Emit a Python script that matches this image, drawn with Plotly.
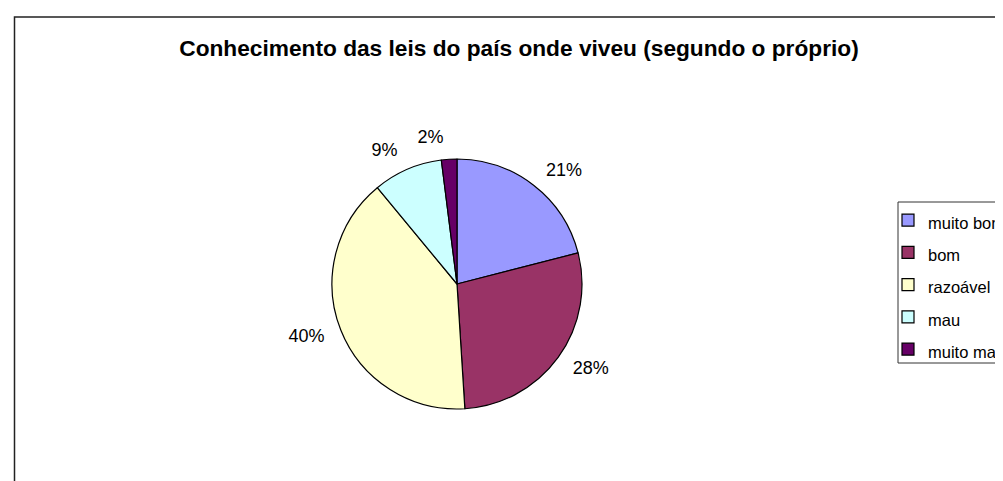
import plotly.graph_objects as go

# dados do gráfico
categorias = ["muito bom", "bom", "razoável", "mau", "muito mau"]
valores = [21, 28, 40, 9, 2]
cores = ["#9999FF", "#993366", "#FFFFCC", "#CCFFFF", "#660066"]
titulo = "Conhecimento das leis do país onde viveu (segundo o próprio)"

W, H = 1003, 481
fonte = "Liberation Sans, Arial, sans-serif"
cx, cy, r = 449, 276, 125      # centro e raio da tarta (px)
r_txt = 137                    # raio usado para colocar os rótulos, como no Excel


def px_x(x):
    return x / W


def px_y(y):
    return 1 - y / H


def dominio(raio):
    return dict(x=[px_x(cx - raio), px_x(cx + raio)],
                y=[px_y(cy + raio), px_y(cy - raio)])


# texto da legenda menor que a fonte da legenda (para o espaçamento entre itens)
rotulos = ['<span style="font-size:16.5px">%s</span>' % c for c in categorias]
transp = ["rgba(0,0,0,0)"] * len(valores)
n = len(valores)


def pie(pos, cor, linha, dom, legenda):
    return go.Pie(
        labels=rotulos,
        values=valores,
        sort=False,
        direction="clockwise",
        rotation=0,
        marker=dict(colors=cor, line=linha),
        textinfo="percent",
        textposition=pos,
        textfont=dict(family=fonte, size=18, color="black"),
        domain=dom,
        showlegend=legenda,
        hoverinfo="label+percent" if legenda else "skip",
    )


fig = go.Figure()
# fatias
fig.add_trace(pie("none", cores, dict(color="black", width=1.2), dominio(r), True))
# rótulos (pie transparente um pouco maior); a fatia pequena à parte
# para o plotly não a empurrar com uma linha de ligação
fig.add_trace(pie(["outside"] * (n - 1) + ["none"], transp,
                  dict(color="rgba(0,0,0,0)", width=0), dominio(r_txt), False))
fig.add_trace(pie(["none"] * (n - 1) + ["outside"], transp,
                  dict(color="rgba(0,0,0,0)", width=0), dominio(r_txt), False))

fig.update_layout(
    width=W, height=H,
    margin=dict(l=0, r=0, t=0, b=0, autoexpand=False),
    paper_bgcolor="white",
    font=dict(family=fonte, color="black"),
    title=dict(text="<b>%s</b>" % titulo, x=px_x(511), y=px_y(40),
               xanchor="center", yanchor="middle",
               font=dict(family=fonte, size=22.7, color="black")),
    legend=dict(x=px_x(880), y=px_y(191), xanchor="left", yanchor="top",
                font=dict(family=fonte, size=22.5, color="black"),
                bgcolor="rgba(0,0,0,0)", borderwidth=0),
    shapes=[
        # moldura do gráfico
        dict(type="rect", xref="paper", yref="paper",
             x0=px_x(6.5), x1=px_x(1020), y0=px_y(500), y1=px_y(9),
             line=dict(color="#222222", width=1.5)),
        # caixa da legenda
        dict(type="rect", xref="paper", yref="paper",
             x0=px_x(890), x1=px_x(1020), y0=px_y(355), y1=px_y(194),
             line=dict(color="#333333", width=1)),
    ],
)

fig.write_html("out.html")
